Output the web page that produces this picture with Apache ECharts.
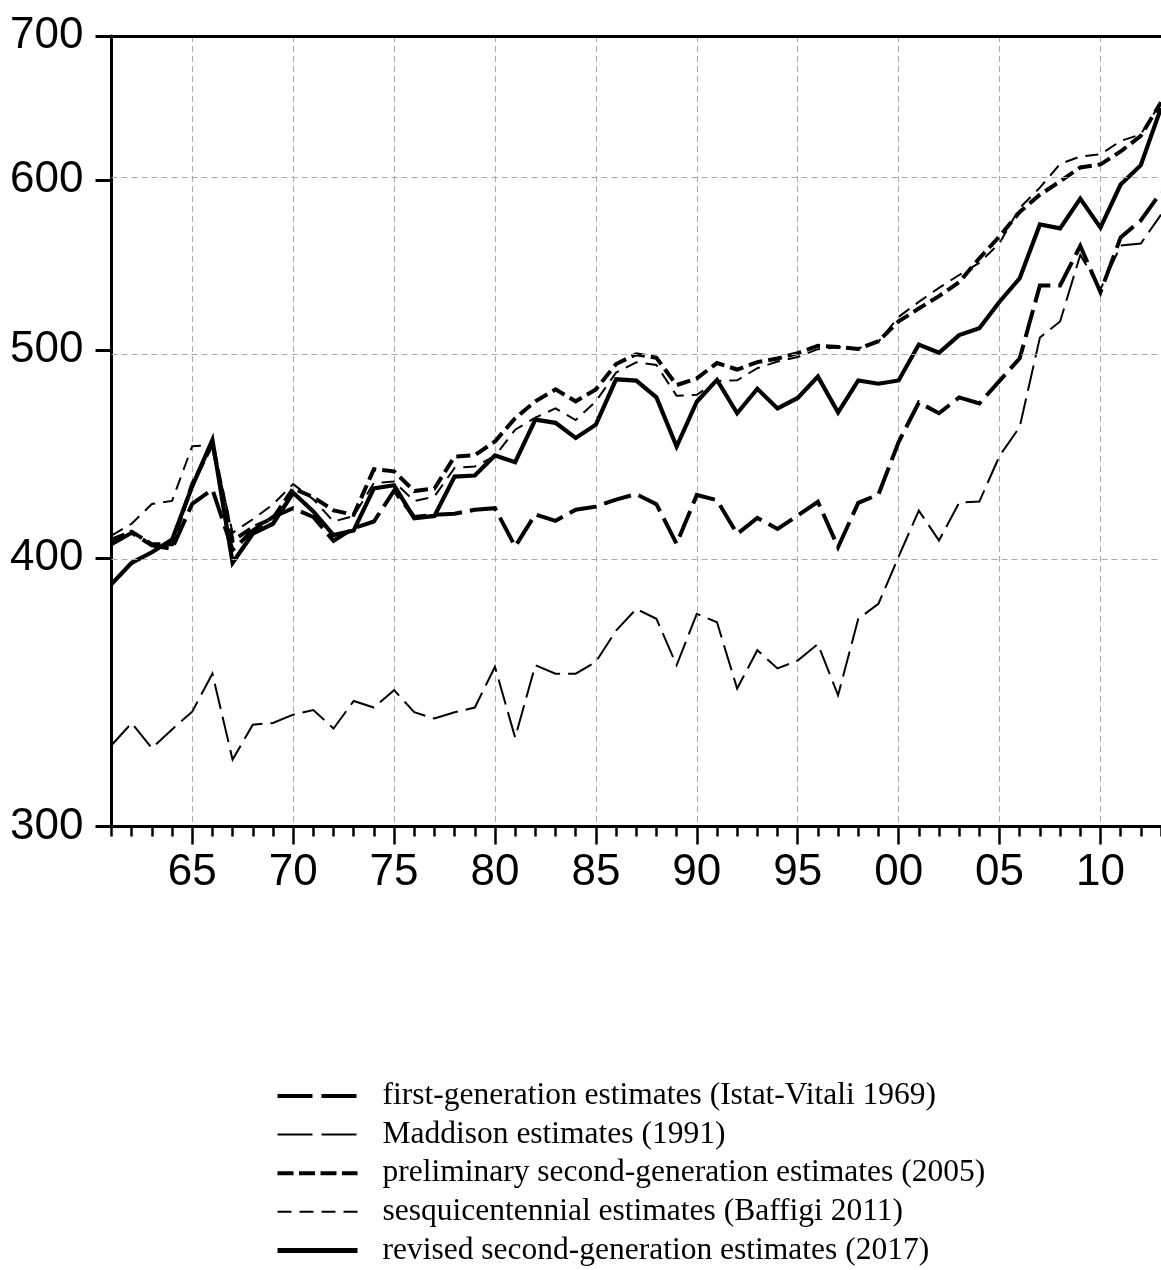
<!DOCTYPE html>
<html>
<head>
<meta charset="utf-8">
<script src="https://cdn.jsdelivr.net/npm/echarts@6/dist/echarts.min.js"></script>
<style>
html,body{margin:0;padding:0;background:#fff;}
#c{width:1161px;height:1270px;}
</style>
</head>
<body>
<div id="c"></div>
<script>
// ---- data ----
const years = ['1961','1962','1963','1964','1965','1966','1967','1968','1969','1970',
  '1971','1972','1973','1974','1975','1976','1977','1978','1979','1980',
  '1981','1982','1983','1984','1985','1986','1987','1988','1989','1990',
  '1991','1992','1993','1994','1995','1996','1997','1998','1999','2000',
  '2001','2002','2003','2004','2005','2006','2007','2008','2009','2010',
  '2011','2012','2013'];

const firstGen = [406,411,405.5,404,424,430.5,403.5,412,418,422,
  418,407.5,413,416,430,418,419,419.5,421.3,422,
  405,419.2,416.3,421.3,422.7,425.9,428.4,423.8,406.2,428,
  425.6,410.5,417.6,412.7,418.7,424.9,404.7,424.4,428.2,453,
  472.6,467.2,475.2,472.1,483.7,495.5,535.8,535.8,559,531.9,
  564.1,574.4,592];

const maddison = [327.3,335.2,326.3,332.9,339.3,353.4,322.3,334.6,335.2,338.2,
  339.9,333.2,343.2,340.8,347.2,339.1,336.8,339.1,340.8,356,
  330,356.6,353.4,353.4,357.9,370.1,378.8,374.8,356.6,376.8,
  373.4,347.8,362.4,355.4,358.4,364.8,345.3,374.8,380.9,400.6,
  420.9,407.6,424.5,425,446.3,460.4,506.7,515.5,553.6,533.6,
  559.2,560.4,578];

const prelim = [408,411.5,406,406,433,452,407.5,413.4,417.5,431,
  427,421,419,440,439,429.8,431,446,446.6,453.3,
  464.7,473.2,479.3,473.2,479.3,492.5,497.7,495.8,481.5,485,
  493,489.6,493.5,495.4,498.3,502.2,501.6,500.5,504.7,515.5,
  522.7,529.7,537.7,551.6,564.7,579.7,590.5,599,608,610,
  618.5,629,652];

const sesqui = [409.8,415,423.9,425.3,451,451.5,411,417,423.7,433,
  426,416,418.5,433.5,434.2,425.2,427.3,440.6,441.3,446.3,
  459,465,469.6,463.8,473.2,488,493.4,492,476,476.5,
  483.7,484,490.3,493.8,496.2,500.4,501.5,500.8,504.5,518,
  526.4,534.4,541.8,548.9,560.6,582.2,595,610.3,615.2,616.6,
  625.5,630,652];

const revised = [389,398,402.5,408,432,454,398,410.6,415,429,
  420.5,410,412,431,432.5,417.5,418.5,436.5,437,446.5,
  443.3,464,462.4,455,461.5,484.5,483.8,475.2,450.8,473,
  484.2,467.2,479.6,469.6,474.9,485.9,467.6,483.9,482.2,483.9,
  502.9,498.5,508,511.7,526.5,539.9,572,569.6,588,570,
  597,609.5,648];

const yTickValues = [300, 400, 500, 600, 700];
const yGridValues = [400, 500, 600];

const seriesNames = [
  'first-generation estimates (Istat-Vitali 1969)',
  'Maddison estimates (1991)',
  'preliminary second-generation estimates (2005)',
  'sesquicentennial estimates (Baffigi 2011)',
  'revised second-generation estimates (2017)'
];

// ---- styles ----
const styles = [
  {width: 4, type: [28, 8], legendType: [35, 9]},
  {width: 2, type: [26, 8], legendType: [35, 9]},
  {width: 4, type: [14, 6], legendType: [16, 5.5]},
  {width: 2, type: [13, 8], legendType: [14, 8]},
  {width: 4.2, type: 'solid', legendType: 'solid'}
];
const seriesData = [firstGen, maddison, prelim, sesqui, revised];

const ln = v => Math.log(v);
const isMajor = (i, v) => Number(v) % 5 === 0;
const sansFont = "'Liberation Sans', Arial, Helvetica, sans-serif";
const serifFont = "'Liberation Serif', 'Times New Roman', Times, serif";

const series = seriesData.map((arr, i) => {
  const s = {
    name: seriesNames[i],
    type: 'line',
    xAxisIndex: 0,
    yAxisIndex: 0,
    symbol: 'none',
    showSymbol: false,
    data: arr.map(ln),
    lineStyle: {color: '#000', width: styles[i].width, type: styles[i].type, join: 'miter', cap: 'butt'},
    itemStyle: {color: '#000'},
    emphasis: {disabled: true},
    clip: true,
    animation: false
  };
  if (i === 0) {
    s.markLine = {
      silent: true,
      symbol: 'none',
      animation: false,
      label: {show: false},
      lineStyle: {color: '#aaaaaa', type: [6, 4], width: 1},
      emphasis: {disabled: true},
      data: yGridValues.map(v => ({yAxis: ln(v)}))
    };
  }
  return s;
});

const chart = echarts.init(document.getElementById('c'), null, {renderer: 'canvas'});
chart.setOption({
  backgroundColor: '#ffffff',
  animation: false,
  grid: {left: 111.5, right: -3.7, top: 36, bottom: 443.5, containLabel: false},
  xAxis: [
    {
      type: 'category', data: years, boundaryGap: false, position: 'bottom',
      axisLine: {show: true, onZero: false, lineStyle: {color: '#000', width: 3}},
      axisTick: {show: true, interval: isMajor, length: 18, lineStyle: {color: '#000', width: 2.5}},
      axisLabel: {show: true, interval: isMajor, formatter: v => v.slice(2), fontSize: 44,
        fontFamily: sansFont, color: '#000', margin: 24},
      splitLine: {show: true, interval: isMajor, lineStyle: {color: '#aaaaaa', type: [6, 4], width: 1}}
    },
    {
      type: 'category', data: years, boundaryGap: false, position: 'bottom',
      axisLine: {show: false, onZero: false},
      axisTick: {show: true, interval: 0, length: 10, lineStyle: {color: '#000', width: 2.5}},
      axisLabel: {show: false},
      splitLine: {show: false}
    },
    {
      type: 'category', data: years, boundaryGap: false, position: 'top',
      axisLine: {show: true, onZero: false, lineStyle: {color: '#000', width: 3}},
      axisTick: {show: false},
      axisLabel: {show: false},
      splitLine: {show: false}
    }
  ],
  yAxis: [
    {
      type: 'value', min: ln(300), max: ln(700), position: 'left',
      axisLine: {show: true, onZero: false, lineStyle: {color: '#000', width: 3}},
      axisTick: {show: true, customValues: yTickValues.map(ln), length: 16, lineStyle: {color: '#000', width: 3}},
      axisLabel: {show: true, customValues: yTickValues.map(ln), formatter: v => String(Math.round(Math.exp(v))),
        fontSize: 44, fontFamily: sansFont, color: '#000', margin: 28, padding: [0, 0, 12, 0]},
      splitLine: {show: false}
    }
  ],
  legend: {
    show: true,
    orient: 'vertical',
    left: 275,
    top: 1080,
    height: 300,
    padding: 0,
    itemWidth: 80,
    itemHeight: 16,
    itemGap: 6.6,
    selectedMode: false,
    itemStyle: {opacity: 0},
    textStyle: {fontFamily: serifFont, fontSize: 31.5, color: '#000', lineHeight: 32, padding: [0, 0, 0, 20]},
    data: seriesNames.map((n, i) => ({
      name: n,
      itemStyle: {opacity: 0, color: 'rgba(0,0,0,0)', borderWidth: 0},
      lineStyle: {color: '#000', width: i === 4 ? 5 : styles[i].width, type: styles[i].legendType, opacity: 1}
    }))
  },
  series: series
});
</script>
</body>
</html>
